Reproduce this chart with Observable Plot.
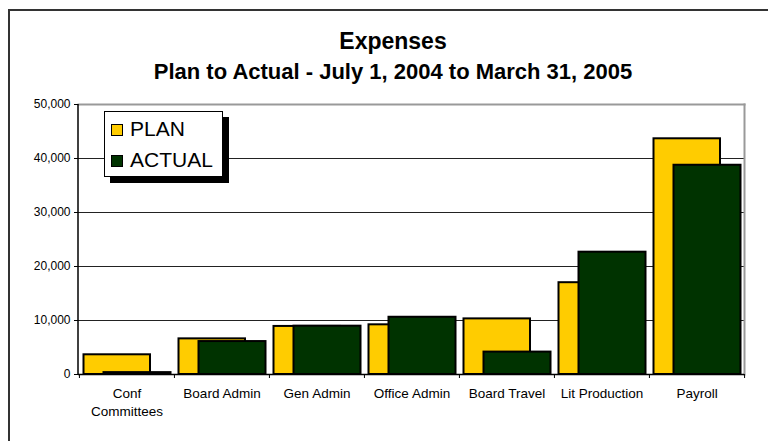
<!DOCTYPE html>
<html>
<head>
<meta charset="utf-8">
<script src="https://cdn.jsdelivr.net/npm/d3@7"></script>
<script src="https://cdn.jsdelivr.net/npm/@observablehq/plot@0.6"></script>
<style>
  html, body { margin: 0; padding: 0; background: #fff; }
  body { width: 768px; height: 441px; overflow: hidden; position: relative; font-family: "Liberation Sans", Arial, Helvetica, sans-serif; }
  #frame { position: absolute; left: 8px; top: 9px; width: 800px; height: 500px; border-top: 2px solid #333; border-left: 2px solid #333; box-sizing: border-box; }
  #chart { position: absolute; left: 0; top: 0; }
  .title { position: absolute; left: 0; width: 786px; text-align: center; font-weight: bold; color: #000; white-space: nowrap; }
  #t1 { top: 28px; font-size: 23px; }
  #t2 { top: 59px; font-size: 22px; }
  #legend { position: absolute; left: 104px; top: 111px; width: 119px; height: 66px; border: 1px solid #000; background: #fff; box-shadow: 6px 6px 0 #000; box-sizing: border-box; }
  .item { position: absolute; left: 6px; height: 24px; font-size: 21px; line-height: 24px; color: #000; white-space: nowrap; }
  .sw { display: inline-block; width: 10px; height: 10px; border: 1.5px solid #000; vertical-align: 0px; margin-right: 7px; }
</style>
</head>
<body>
<div id="frame"></div>
<div id="chart"></div>
<div class="title" id="t1">Expenses</div>
<div class="title" id="t2">Plan to Actual - July 1, 2004 to March 31, 2005</div>
<div id="legend"></div>
<script>
const categories = ["Conf\nCommittees", "Board Admin", "Gen Admin", "Office Admin", "Board Travel", "Lit Production", "Payroll"];
const plan =   [3650, 6600, 8900, 9200, 10300, 17000, 43650];
const actual = [350, 6100, 8950, 10600, 4150, 22650, 38750];
const yTicks = [0, 10000, 20000, 30000, 40000, 50000];
const seriesNames = ["PLAN", "ACTUAL"];
const seriesColors = ["#FFCC00", "#003300"];

const planData = categories.map((c, i) => ({category: c, value: plan[i]}));
const actualData = categories.map((c, i) => ({category: c, value: actual[i]}));

const W = 768, H = 441;
const mL = 78, mR = 24, mT = 104, mB = 67;
const step = (W - mL - mR) / categories.length;

const chart = Plot.plot({
  width: W,
  height: H,
  marginLeft: mL,
  marginRight: mR,
  marginTop: mT,
  marginBottom: mB,
  style: {background: "transparent", fontFamily: "'Liberation Sans', Arial, sans-serif", overflow: "visible"},
  x: {domain: categories, type: "band", paddingInner: 0, paddingOuter: 0, label: null},
  y: {domain: [0, 50000], label: null},
  marks: [
    Plot.ruleY(yTicks.filter(v => v > 0 && v < 50000), {stroke: "#222", strokeWidth: 1}),
    Plot.frame({anchor: "top", stroke: "#999", strokeWidth: 2}),
    Plot.frame({anchor: "right", stroke: "#999", strokeWidth: 2}),
    Plot.barY(planData, {x: "category", y: "value", fill: seriesColors[0], stroke: "#000", strokeWidth: 2, insetLeft: 4.5, insetRight: 24}),
    Plot.barY(actualData, {x: "category", y: "value", fill: seriesColors[1], stroke: "#000", strokeWidth: 2, insetLeft: 24.5, insetRight: 3.5}),
    Plot.ruleY([0], {stroke: "#000", strokeWidth: 1.5}),
    Plot.axisY({ticks: yTicks, tickFormat: d3.format(","), tickSize: 4, tickPadding: 4, fontSize: 12, stroke: "#000", color: "#000", label: null}),
    Plot.axisX({tickSize: 0, tickPadding: 11, fontSize: 13.5, lineHeight: 1.33, color: "#000", label: null}),
    Plot.axisX({tickSize: 4, tickFormat: () => "", dx: -step / 2, stroke: "#000", label: null}),
    Plot.axisX({ticks: [categories[categories.length - 1]], tickSize: 4, tickFormat: () => "", dx: step / 2, stroke: "#000", label: null})
  ]
});
document.getElementById("chart").appendChild(chart);

// left axis line
const svg = d3.select(chart);
svg.append("line").attr("x1", mL).attr("x2", mL).attr("y1", mT).attr("y2", H - mB).attr("stroke", "#000").attr("stroke-width", 1.5);

const legend = d3.select("#legend");
seriesNames.forEach((n, i) => {
  const it = legend.append("div").attr("class", "item").style("top", (i === 0 ? 5 : 36) + "px");
  it.append("span").attr("class", "sw").style("background", seriesColors[i]);
  it.append("span").text(n);
});
</script>
</body>
</html>
